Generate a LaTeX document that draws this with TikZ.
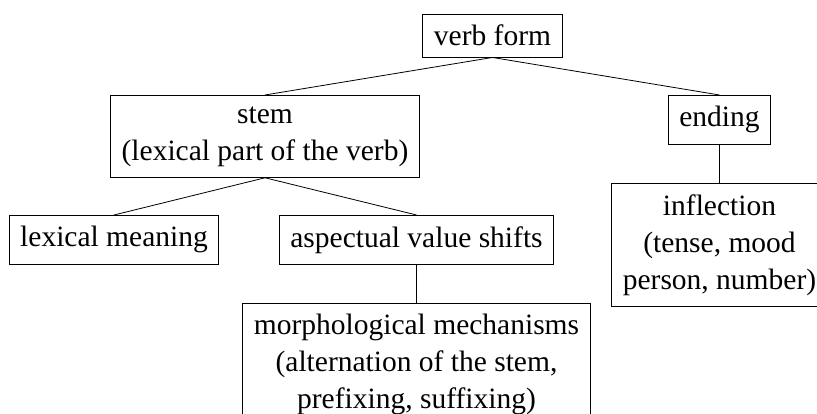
\documentclass[tikz,border=0pt]{standalone}
\usepackage{fontspec}
\setmainfont{Liberation Serif}
\begin{document}
\begin{tikzpicture}[x=1pt,y=1pt,
  box/.style={draw, line width=0.9pt, inner xsep=11pt, inner ysep=11pt, align=center,
              font=\fontsize{29.5}{37}\selectfont},
  link/.style={line width=0.8pt}]
\useasboundingbox (0,0) rectangle (817,414);
\clip (0,0) rectangle (817,414);

% nodes of the tree
\node[box] (verb) at (492.5,378.5) {verb form};
\node[box, anchor=north] (stem) at (265,319) {stem\\(lexical part of the verb)};
\node[box, anchor=north] (ending) at (719.5,319) {ending};
\node[box, anchor=north] (lex) at (114,199) {lexical meaning};
\node[box, anchor=north] (asp) at (416.5,199) {aspectual value shifts};
\node[box, anchor=north] (infl) at (719.5,231) {inflection\\(tense, mood\\person, number)};
\node[box, anchor=north] (morph) at (416.5,111) {morphological mechanisms\\(alternation of the stem,\\prefixing, suffixing)};

% branches
\draw[link] (verb.south) -- (stem.north);
\draw[link] (verb.south) -- (ending.north);
\draw[link] (stem.south) -- (lex.north);
\draw[link] (stem.south) -- (asp.north);
\draw[link] (asp.south) -- (morph.north);
\draw[link] (ending.south) -- (infl.north);
\end{tikzpicture}
\end{document}
